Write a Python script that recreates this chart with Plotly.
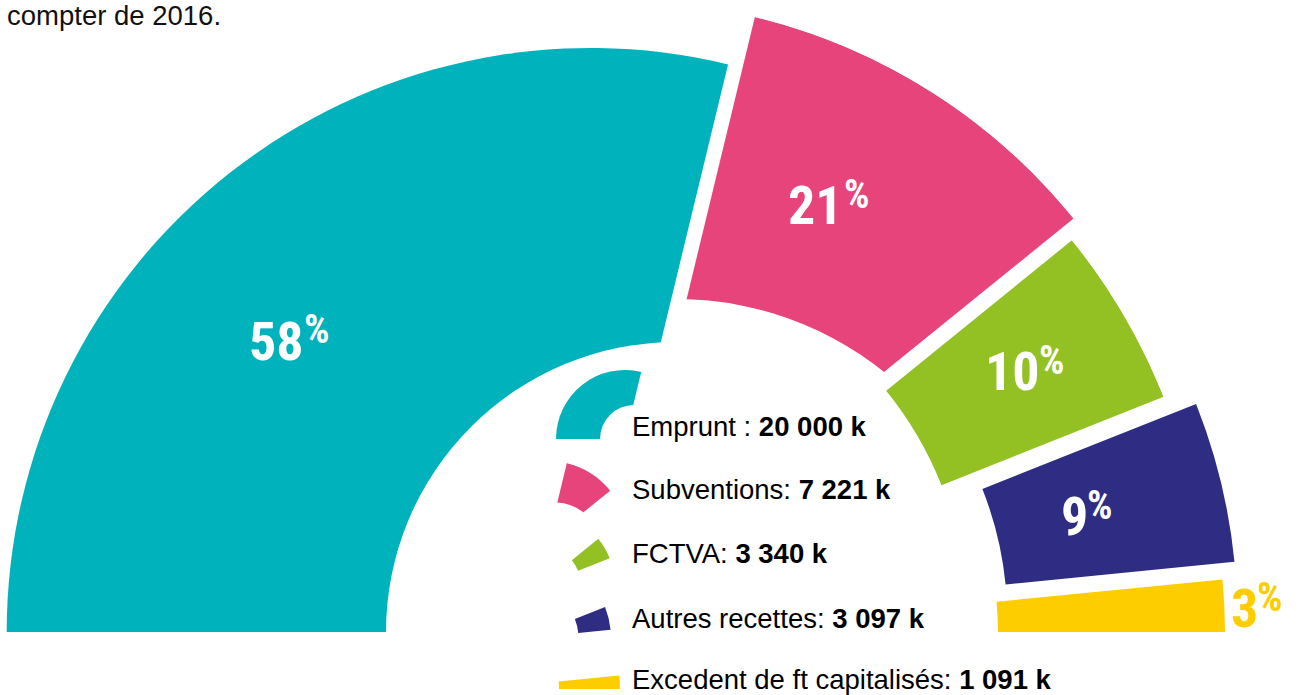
import plotly.graph_objects as go

# ---------------- data ----------------
labels = ["Emprunt :", "Subventions:", "FCTVA:", "Autres recettes:", "Excedent de ft capitalisés:"]
values = [20000, 7221, 3340, 3097, 1091]
colors = ["#00B2BB", "#E7447B", "#93C022", "#2E2D83", "#FECD00"]
title_text = "compter de 2016."

# ---------------- layout / style (pixel geometry) ----------------
W, H = 1299, 695
seg_geom = [
    dict(cx=590.7, cy=632.0, rd=590, base=0, outer=584),   # teal
    dict(cx=616.6, cy=588.5, rd=588, base=0, outer=588),   # pink
    dict(cx=603.3, cy=619.7, rd=603, base=364, outer=603), # green
    dict(cx=655.3, cy=619.1, rd=600, base=352, outer=582), # blue
    dict(cx=691.0, cy=632.0, rd=540, base=307, outer=534), # yellow
]
hole_center = (676.0, 632.0)
hole_teal, hole_pink = 290, 333

icon_geom = [
    dict(cx=625, cy=439, rd=70, base=0, outer=69),
    dict(cx=548, cy=541, rd=81, base=0, outer=80),
    dict(cx=540, cy=586, rd=76, base=41, outer=75),
    dict(cx=527, cy=638, rd=85, base=51.5, outer=84),
    dict(cx=483, cy=689, rd=140, base=76, outer=137),
]
icon_holes = [dict(cx=634, cy=439, r=34), dict(cx=555, cy=548, r=45.5)]

pct_pos = [
    (306, 341.5, 302, 329),
    (845, 205.8, 842, 194),
    (1042, 371.7, 1037, 360.8),
    (1090, 516.7, 1085, 505.8),
    (1260, 608.3, 1255, 597.5),
]
pct_colors = ["white", "white", "white", "white", "#FECD00"]
legend_x = 630
legend_baselines = [436, 499, 563, 628, 689]

# ---------------- derived ----------------
total = sum(values)
spans = [v / total * 180.0 for v in values]
theta_mid = []
start = 180.0
for s in spans:
    theta_mid.append(start - s / 2.0)
    start -= s
pcts = [round(v / total * 100) for v in values]

fig = go.Figure()
sub_counter = [10]


def add_polar(cx, cy, rd, theta, width, base, length, color):
    sid = "polar%d" % sub_counter[0]
    sub_counter[0] += 1
    fig.add_trace(go.Barpolar(
        r=[length], base=[base], theta=[theta], width=[width],
        marker=dict(color=color, line=dict(width=0)),
        subplot=sid, hoverinfo="skip", showlegend=False,
    ))
    fig.update_layout(**{sid: dict(
        domain=dict(x=[(cx - rd) / W, (cx + rd) / W], y=[(H - cy) / H, (H - cy + rd) / H]),
        sector=[0, 180], bgcolor="rgba(0,0,0,0)", hole=0, bargap=0,
        radialaxis=dict(range=[0, rd], visible=False),
        angularaxis=dict(visible=False),
    )})


g = seg_geom
add_polar(g[1]["cx"], g[1]["cy"], g[1]["rd"], theta_mid[1], spans[1], 0, g[1]["outer"], colors[1])
add_polar(hole_center[0], hole_center[1], hole_pink + 5, 90, 180, 0, hole_pink, "white")
add_polar(g[0]["cx"], g[0]["cy"], g[0]["rd"], theta_mid[0], spans[0], 0, g[0]["outer"], colors[0])
add_polar(hole_center[0], hole_center[1], hole_teal + 5, 90, 180, 0, hole_teal, "white")
for i in (2, 3, 4):
    add_polar(g[i]["cx"], g[i]["cy"], g[i]["rd"], theta_mid[i], spans[i],
              g[i]["base"], g[i]["outer"] - g[i]["base"], colors[i])

for i in range(5):
    ig = icon_geom[i]
    add_polar(ig["cx"], ig["cy"], ig["rd"], theta_mid[i], spans[i],
              ig["base"], ig["outer"] - ig["base"], colors[i])
    if i < 2:
        h = icon_holes[i]
        add_polar(h["cx"], h["cy"], h["r"] + 2, 90, 180, 0, h["r"], "white")

annotations = []
pct_font = "Roboto Condensed, Open Sans Condensed, DejaVu Sans Condensed, Liberation Sans"
for i in range(5):
    dx, dy, px_, py_ = pct_pos[i]
    annotations.append(dict(
        x=dx / W, y=(H - dy) / H, xref="paper", yref="paper", xanchor="right", yanchor="middle",
        text=str(pcts[i]), showarrow=False,
        font=dict(family=pct_font, size=54, color=pct_colors[i], weight="bold"),
    ))
    annotations.append(dict(
        x=px_ / W, y=(H - py_) / H, xref="paper", yref="paper", xanchor="left", yanchor="middle",
        text="%", showarrow=False,
        font=dict(family=pct_font, size=40, color=pct_colors[i], weight="bold"),
    ))

txt_size = 27.5
for i in range(5):
    val = "{:,}".format(values[i]).replace(",", " ") + " k"
    yc = legend_baselines[i] - 0.3465 * txt_size
    annotations.append(dict(
        x=legend_x / W, y=(H - yc) / H, xref="paper", yref="paper", xanchor="left", yanchor="middle",
        text=labels[i] + " <b>" + val + "</b>", showarrow=False,
        font=dict(family="Liberation Sans, Arial", size=txt_size, color="#000000"),
    ))

annotations.append(dict(
    x=223 / W, y=(H - (25 - 0.3465 * txt_size)) / H, xref="paper", yref="paper",
    xanchor="right", yanchor="middle", text=title_text, showarrow=False,
    font=dict(family="Liberation Sans, Arial", size=txt_size, color="#111111"),
))

fig.update_layout(
    width=W, height=H, margin=dict(l=0, r=0, t=0, b=0),
    paper_bgcolor="white", plot_bgcolor="white",
    showlegend=False, annotations=annotations,
)

fig.write_html("out.html", config={"displayModeBar": False},
               post_script="document.body.style.margin='0px';")
